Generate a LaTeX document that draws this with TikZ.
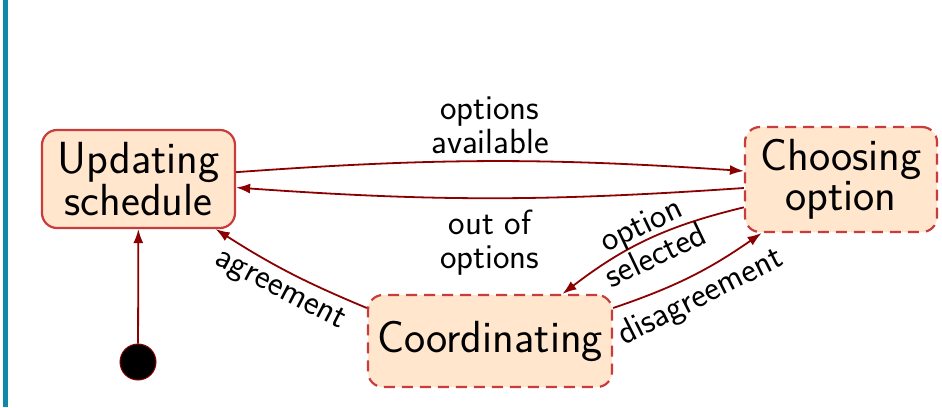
\documentclass[tikz,border=0pt]{standalone}
\usetikzlibrary{arrows.meta}
\definecolor{tealbar}{RGB}{14,138,168}
\definecolor{boxfill}{RGB}{255,230,204}
\definecolor{boxdraw}{RGB}{200,60,60}
\definecolor{edgecol}{RGB}{139,0,0}
\begin{document}
\begin{tikzpicture}[x=0.5pt,y=-0.5pt,
 state/.style={draw=boxdraw, fill=boxfill, line width=1.1pt, rounded corners=7.5pt, align=center,
   font=\sffamily\fontsize{22.5}{20}\selectfont, inner sep=0pt},
 dstate/.style={state, dash pattern=on 5.5pt off 3.5pt},
 trans/.style={draw=edgecol, line width=0.9pt, -{Latex[length=7pt,width=5pt]}},
 lab/.style={font=\sffamily\fontsize{17.5}{17}\selectfont, align=center}]
\useasboundingbox (0,0) rectangle (942,407);
\fill[tealbar] (3,0) rectangle (8,407);
\node[state, minimum width=96.5pt, minimum height=49pt] (u) at (138.5,179) {Updating\\schedule};
\node[dstate, minimum width=96pt, minimum height=52.5pt] (c) at (841,179.5) {Choosing\\option};
\node[dstate, minimum width=122pt, minimum height=46pt] (k) at (490,341) {Coordinating};
\node[circle, fill=black, draw=edgecol, line width=0.5pt, minimum size=18pt, inner sep=0pt] (init) at (138,362) {};
\draw[trans] (init) -- (u);
\draw[trans] (u.4) to[bend left=4] node[lab, above] {options\\available} (c.175);
\draw[trans] (c.185) to[bend left=4] node[lab, below, yshift=-2pt] {out of\\options} (u.355);
\draw[trans] (c.196) to[bend right=12] node[lab, sloped] {option\\selected} (k.33);
\draw[trans] (k.15) to[bend right=8] node[lab, sloped, below] {disagreement} (c.214);
\draw[trans] (k.165) to[bend left=5] node[lab, sloped, below] {agreement} (u.327);
\end{tikzpicture}
\end{document}
